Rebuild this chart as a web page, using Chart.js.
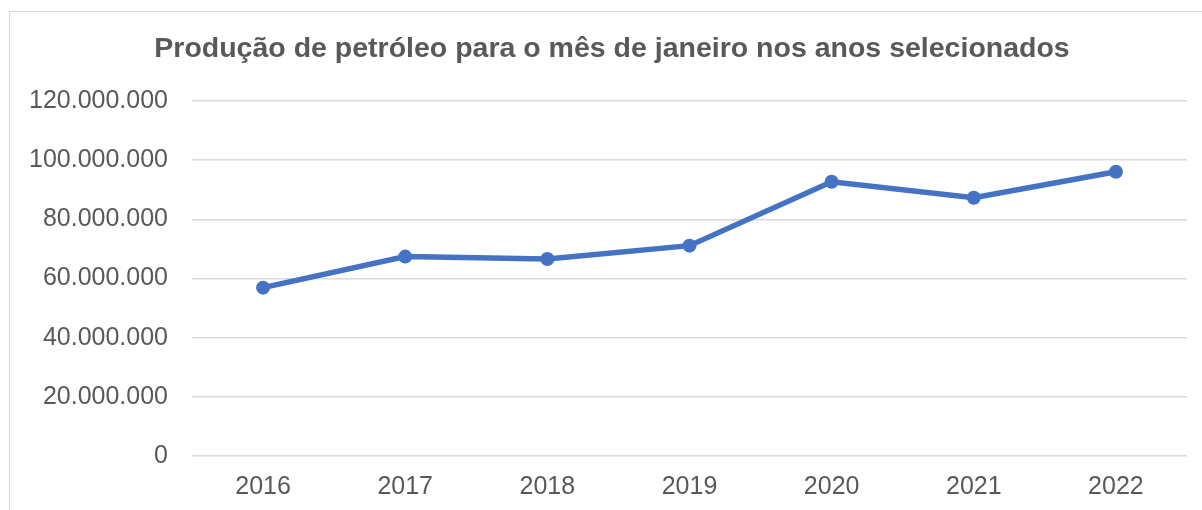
<!DOCTYPE html>
<html>
<head>
<meta charset="utf-8">
<script src="https://cdn.jsdelivr.net/npm/chart.js@4"></script>
<style>
  html, body { margin: 0; padding: 0; background: #fff; }
  body { width: 1202px; height: 510px; position: relative; overflow: hidden; }
  #frame { position: absolute; left: 9px; top: 11px; width: 1300px; height: 600px; border: 1.5px solid #d9d9d9; box-sizing: border-box; }
  #wrap { position: absolute; left: 0; top: 0; width: 1202px; height: 510px; }
</style>
</head>
<body>
<div id="frame"></div>
<div id="wrap"><canvas id="c"></canvas></div>
<script>
const titleText = 'Produção de petróleo para o mês de janeiro nos anos selecionados';
const years = ['2016', '2017', '2018', '2019', '2020', '2021', '2022'];
const production = [56900000, 67400000, 66600000, 71100000, 92700000, 87300000, 96100000];
const yTickMin = 0;
const yTickMax = 120000000;
const yTickStep = 20000000;

function fmt(v) {
  return String(Math.round(v)).replace(/\B(?=(\d{3})+(?!\d))/g, '.');
}

Chart.defaults.font.family = '"Liberation Sans", Arial, sans-serif';
Chart.defaults.color = '#595959';

const titleShift = {
  id: 'titleShift',
  afterLayout(chart) {
    if (chart.titleBlock) { chart.titleBlock.left = 37; }
  }
};

new Chart(document.getElementById('c'), {
  type: 'line',
  data: {
    labels: years,
    datasets: [{
      data: production,
      borderColor: '#4472C4',
      backgroundColor: '#4472C4',
      borderWidth: 5.5,
      pointRadius: 7,
      pointHoverRadius: 7,
      pointBorderWidth: 0,
      tension: 0,
      fill: false
    }]
  },
  options: {
    responsive: true,
    maintainAspectRatio: false,
    animation: false,
    layout: { padding: { left: 0, right: 15, top: 0, bottom: 0 } },
    plugins: {
      legend: { display: false },
      tooltip: { enabled: false },
      title: {
        display: true,
        text: titleText,
        color: '#595959',
        font: { size: 28.5, weight: 'bold' },
        padding: { top: 32, bottom: 34.8 }
      }
    },
    scales: {
      x: {
        offset: true,
        grid: { display: false, drawTicks: false },
        border: { display: false },
        ticks: { font: { size: 25 }, color: '#595959', padding: 16, maxRotation: 0 },
        afterFit: (s) => { s.height = 54; }
      },
      y: {
        min: yTickMin,
        max: yTickMax,
        grid: { color: '#d9d9d9', lineWidth: 1.5, drawTicks: false },
        border: { display: false },
        ticks: { stepSize: yTickStep, font: { size: 25 }, color: '#595959', padding: 24, callback: (v) => fmt(v) },
        afterFit: (s) => { s.width = 192; }
      }
    }
  },
  plugins: [titleShift]
});
</script>
</body>
</html>
